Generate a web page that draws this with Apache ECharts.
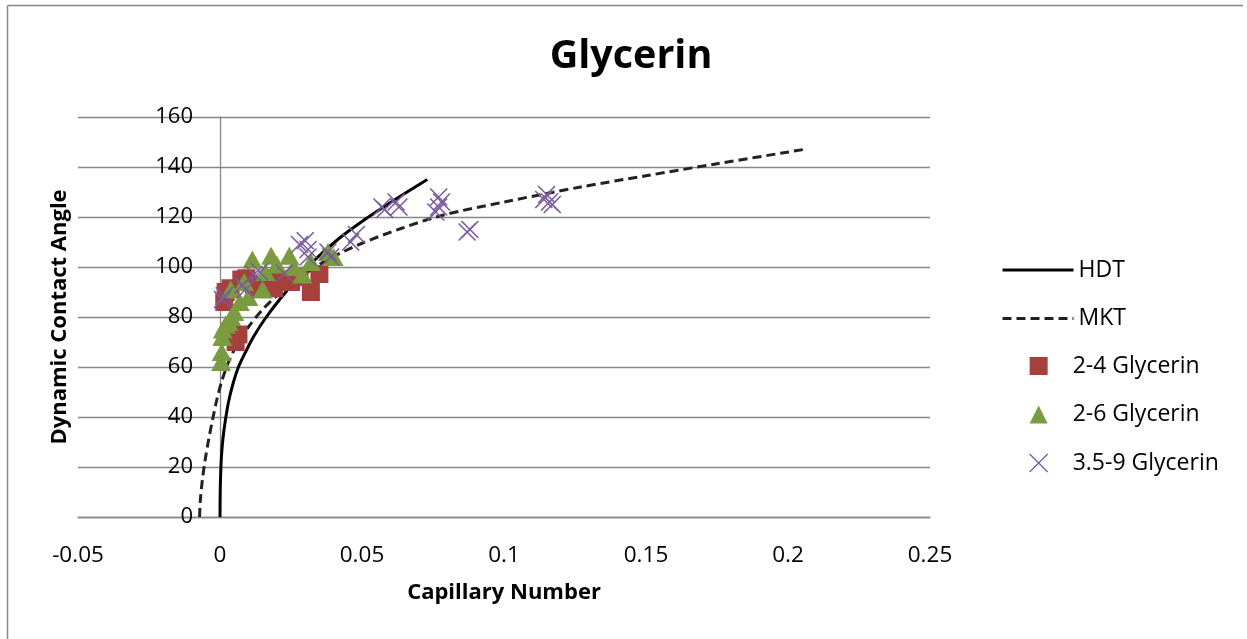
<!DOCTYPE html>
<html>
<head>
<meta charset="utf-8">
<script src="https://cdn.jsdelivr.net/npm/echarts@6/dist/echarts.min.js"></script>
<style>
  html, body { margin: 0; padding: 0; background: #ffffff; }
  #chart { width: 1247px; height: 639px; }
</style>
</head>
<body>
<div id="chart"></div>
<script>
// Axis ticks
const xTicks = [-0.05, 0, 0.05, 0.1, 0.15, 0.2, 0.25];
const xTickLabels = ['-0.05', '0', '0.05', '0.1', '0.15', '0.2', '0.25'];
const yTicks = [0, 20, 40, 60, 80, 100, 120, 140, 160];

// Model curves: [capillary number, dynamic contact angle]
const hdtCurve = [
  [0, 0], [0.00005, 8], [0.0002, 16], [0.0005, 24], [0.001, 31], [0.0018, 38],
  [0.003, 46], [0.0045, 53], [0.0065, 60], [0.009, 66], [0.012, 72.5],
  [0.016, 79.5], [0.021, 87], [0.027, 95], [0.034, 103.5], [0.042, 111.5],
  [0.051, 119], [0.061, 126.5], [0.073, 135]
];
const mktCurve = [
  [-0.0072, 0], [-0.0069, 7], [-0.0062, 15], [-0.0052, 23], [-0.004, 31],
  [-0.0026, 39], [-0.0011, 47], [0.0008, 55], [0.003, 62], [0.006, 69],
  [0.01, 76], [0.015, 83], [0.021, 89.5], [0.029, 96.5], [0.038, 103],
  [0.05, 109.5], [0.064, 115.5], [0.0787, 120.8], [0.1, 126], [0.127, 132],
  [0.15, 136.5], [0.175, 141.3], [0.2055, 147]
];

// Measured points
const glycerin24 = [
  [0.0015, 86], [0.002, 90], [0.0037, 91.5], [0.0055, 70], [0.0065, 73],
  [0.0075, 95], [0.0093, 95.5], [0.012, 92], [0.015, 93], [0.019, 91.5],
  [0.021, 95], [0.025, 94], [0.028, 96], [0.032, 90], [0.035, 97.2]
];
const glycerin26 = [
  [0.0004, 62], [0.0006, 66], [0.0008, 72], [0.001, 75], [0.002, 77],
  [0.003, 78], [0.0038, 91], [0.004, 80], [0.005, 82], [0.007, 86],
  [0.0085, 94], [0.010, 88], [0.0114, 103], [0.015, 91], [0.016, 98],
  [0.018, 104.5], [0.020, 101], [0.0244, 104.5], [0.026, 100], [0.029, 97],
  [0.032, 102], [0.038, 106], [0.040, 104]
];
const glycerin359 = [
  [0.0009, 87], [0.0015, 88.5], [0.0079, 92.8], [0.009, 91], [0.012, 97],
  [0.014, 98], [0.0226, 97.5], [0.028, 109], [0.030, 110.5], [0.031, 107],
  [0.031, 104], [0.038, 106], [0.039, 104], [0.046, 110], [0.048, 113],
  [0.057, 124], [0.058, 123], [0.062, 126], [0.063, 124], [0.076, 122],
  [0.077, 124], [0.077, 128], [0.078, 126], [0.087, 114], [0.088, 115],
  [0.114, 127], [0.115, 129], [0.116, 126], [0.117, 125]
];

const FONT = 'Open Sans';
const GRID = '#878787';
const RED = '#a5403c';
const GREEN = '#7a9b3f';
const PURPLE = '#7a5c9e';
const CROSS = 'path://M0,0L10,10M10,0L0,10';

const chart = echarts.init(document.getElementById('chart'), null, { renderer: 'canvas' });

chart.setOption({
  animation: false,
  backgroundColor: '#ffffff',
  textStyle: { fontFamily: FONT, color: '#000' },
  title: {
    text: 'Glycerin',
    left: 626,
    top: 32,
    textAlign: 'center',
    textStyle: { fontFamily: FONT, fontSize: 39.5, fontWeight: 'bold', color: '#000' }
  },
  grid: { left: 78, right: 317, top: 117, bottom: 122, containLabel: false, outerBoundsMode: 'none' },
  xAxis: {
    type: 'value',
    min: xTicks[0],
    max: xTicks[xTicks.length - 1],
    interval: 0.05,
    name: 'Capillary Number',
    nameLocation: 'middle',
    nameGap: 65,
    nameTextStyle: { fontFamily: FONT, fontSize: 22, fontWeight: 'bold', color: '#000' },
    axisLine: { show: true, lineStyle: { color: GRID, width: 1.3 } },
    axisTick: { show: false },
    splitLine: { show: false },
    axisLabel: {
      fontFamily: FONT, fontSize: 22.5, color: '#000', margin: 27,
      formatter: function (v) {
        const i = xTicks.findIndex(t => Math.abs(t - v) < 1e-9);
        return i >= 0 ? xTickLabels[i] : '';
      }
    }
  },
  yAxis: {
    type: 'value',
    min: yTicks[0],
    max: yTicks[yTicks.length - 1],
    interval: 20,
    name: 'Dynamic Contact Angle',
    nameLocation: 'middle',
    nameGap: 7,
    nameTextStyle: { fontFamily: FONT, fontSize: 22, fontWeight: 'bold', color: '#000' },
    axisLine: { show: true, onZero: true, lineStyle: { color: GRID, width: 1.3 } },
    axisTick: { show: false },
    splitLine: { show: true, lineStyle: { color: GRID, width: 1.3 } },
    axisLabel: { fontFamily: FONT, fontSize: 22, color: '#000', margin: -115 }
  },
  legend: [
    {
      orient: 'vertical',
      left: 996,
      top: 253,
      itemWidth: 71,
      itemHeight: 14,
      itemGap: 24.5,
      data: ['HDT', 'MKT'],
      itemStyle: { color: 'rgba(0,0,0,0)', borderWidth: 0, opacity: 0 },
      lineStyle: { width: 3 },
      textStyle: { fontFamily: FONT, fontSize: 23, color: '#000', lineHeight: 24 }
    },
    {
      orient: 'vertical',
      left: 1024,
      top: 349,
      itemWidth: 18,
      itemHeight: 18,
      itemGap: 24.5,
      data: [
        { name: '2-4 Glycerin', icon: 'rect' },
        { name: '2-6 Glycerin', icon: 'triangle' },
        { name: '3.5-9 Glycerin', icon: CROSS,
          itemStyle: { color: 'rgba(0,0,0,0)', borderColor: PURPLE, borderWidth: 1.3 } }
      ],
      textStyle: { fontFamily: FONT, fontSize: 23, color: '#000', lineHeight: 24, padding: [0, 0, 0, 20] }
    }
  ],
  graphic: [
    { type: 'line', shape: { x1: 7.5, y1: 5.5, x2: 1243, y2: 5.5 }, style: { stroke: GRID, lineWidth: 1.5 }, silent: true },
    { type: 'line', shape: { x1: 7.5, y1: 5.5, x2: 7.5, y2: 639 }, style: { stroke: GRID, lineWidth: 1.5 }, silent: true }
  ],
  series: [
    {
      name: 'HDT',
      type: 'line',
      data: hdtCurve,
      symbol: 'none',
      smooth: 0.3,
      lineStyle: { color: '#000000', width: 3 },
      itemStyle: { color: '#000000' },
      z: 2
    },
    {
      name: 'MKT',
      type: 'line',
      data: mktCurve,
      symbol: 'none',
      smooth: 0.3,
      lineStyle: { color: '#222222', width: 3, type: [9, 5] },
      itemStyle: { color: '#222222' },
      z: 2
    },
    {
      name: '2-4 Glycerin',
      type: 'scatter',
      data: glycerin24,
      symbol: 'rect',
      symbolSize: 18,
      itemStyle: { color: RED, opacity: 1 },
      z: 3
    },
    {
      name: '2-6 Glycerin',
      type: 'scatter',
      data: glycerin26,
      symbol: 'triangle',
      symbolSize: [20, 18],
      itemStyle: { color: GREEN, opacity: 1 },
      z: 4
    },
    {
      name: '3.5-9 Glycerin',
      type: 'scatter',
      data: glycerin359,
      symbol: CROSS,
      symbolSize: 17,
      itemStyle: { color: 'rgba(0,0,0,0)', borderColor: PURPLE, borderWidth: 1.6, opacity: 1 },
      z: 5
    }
  ]
});
</script>
</body>
</html>
